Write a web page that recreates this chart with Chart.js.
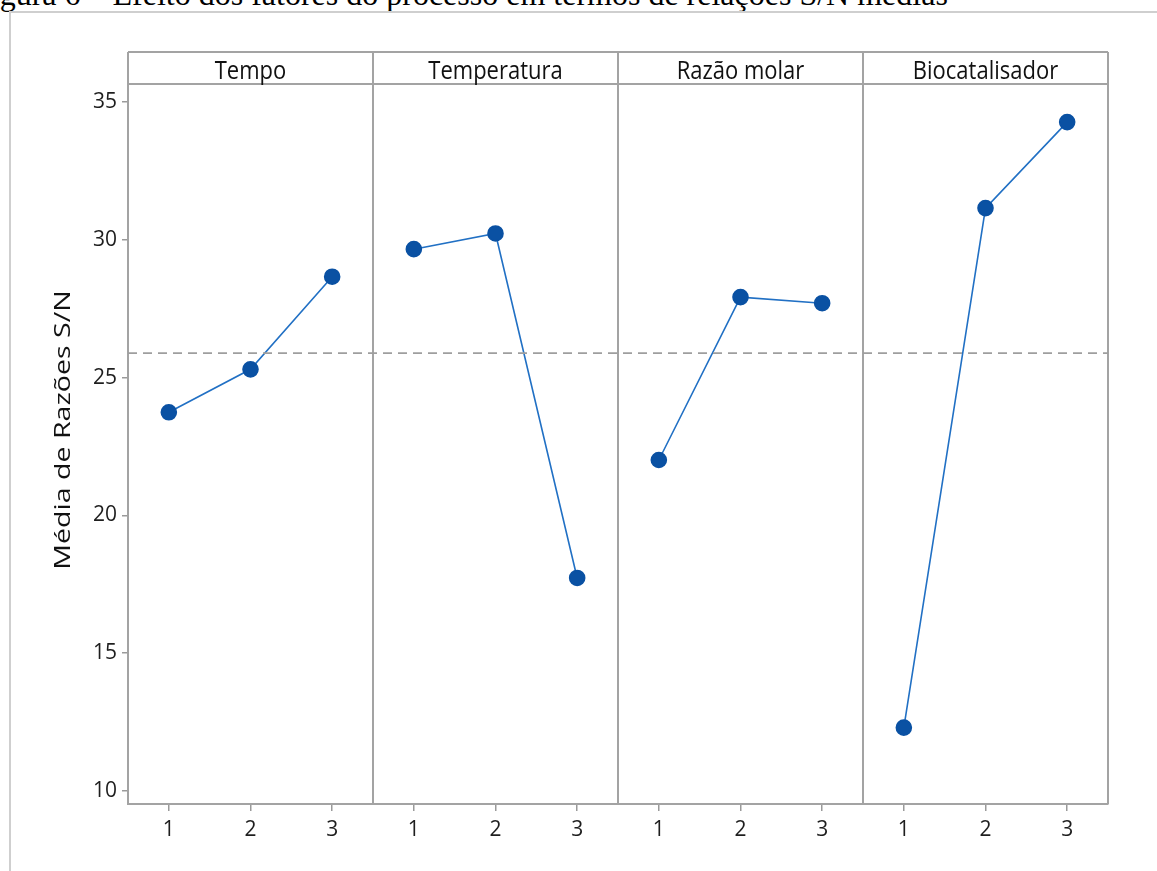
<!DOCTYPE html>
<html>
<head>
<meta charset="utf-8">
<script src="https://cdn.jsdelivr.net/npm/chart.js@4/dist/chart.umd.min.js"></script>
<style>
  html, body { margin: 0; padding: 0; background: #fff; width: 1157px; height: 871px; overflow: hidden; }
  #caption {
    position: absolute; left: -27px; top: -22px;
    font-family: "Liberation Serif", "Times New Roman", serif;
    font-size: 32px; line-height: 32px; white-space: nowrap; color: #000;
  }
  #frame {
    position: absolute; left: 9px; top: 11px; width: 1300px; height: 1000px;
    border-left: 2px solid #cfcfcf; border-top: 2px solid #cfcfcf;
  }
  #wrap { position: absolute; left: 0; top: 0; width: 1157px; height: 871px; }
</style>
</head>
<body>
<div id="caption">Figura 6 – Efeito dos fatores do processo em termos de relações S/N médias</div>
<div id="frame"></div>
<div id="wrap"><canvas id="c"></canvas></div>
<script>
// Main effects of the process factors on mean S/N ratios
const factors = ['Tempo', 'Temperatura', 'Razão molar', 'Biocatalisador'];
const levels = ['1', '2', '3'];
const tempo = [23.74, 25.30, 28.66];
const temperatura = [29.66, 30.23, 17.73];
const razaoMolar = [22.01, 27.92, 27.70];
const biocatalisador = [12.30, 31.15, 34.27];
const yTicks = [10, 15, 20, 25, 30, 35];
const yTitle = 'Média de Razões S/N';

const series = [tempo, temperatura, razaoMolar, biocatalisador];
const allValues = series.flat();
const grandMean = allValues.reduce((a, b) => a + b, 0) / allValues.length;
const nLev = levels.length;
const xMax = factors.length * nLev + 0.5;

Chart.defaults.font.family = '"Open Sans", "Noto Sans", sans-serif';

const GRAY = '#a3a3a3';
const INK = '#1e1e1e';

const datasets = [{
  label: 'Média',
  data: [{ x: 0.5, y: grandMean }, { x: xMax, y: grandMean }],
  borderColor: '#9e9e9e', borderWidth: 1.8, borderDash: [9, 6],
  pointRadius: 0, pointHoverRadius: 0
}].concat(series.map((vals, f) => ({
  label: factors[f],
  data: vals.map((v, i) => ({ x: f * nLev + i + 1, y: v })),
  borderColor: '#2170c4', borderWidth: 1.6,
  pointBackgroundColor: '#0a51a3', pointBorderColor: '#0a51a3',
  pointRadius: 7.5, pointHoverRadius: 7.5, tension: 0, clip: false
})));

// Panel frame, strip headers and factor dividers
const panelPlugin = {
  id: 'panels',
  beforeDatasetsDraw(chart) {
    const { ctx, chartArea: a, scales: { x } } = chart;
    const stripTop = 52;
    ctx.save();
    ctx.strokeStyle = GRAY;
    ctx.lineWidth = 2;
    ctx.beginPath();
    ctx.moveTo(a.left, stripTop); ctx.lineTo(a.right, stripTop);
    ctx.moveTo(a.left, a.top); ctx.lineTo(a.right, a.top);
    ctx.moveTo(a.left, stripTop); ctx.lineTo(a.left, a.top);
    ctx.moveTo(a.right, stripTop); ctx.lineTo(a.right, a.bottom);
    for (let f = 1; f < factors.length; f++) {
      const px = x.getPixelForValue(f * nLev + 0.5);
      ctx.moveTo(px, stripTop); ctx.lineTo(px, a.bottom);
    }
    ctx.stroke();
    ctx.fillStyle = '#111';
    ctx.font = '22px "Open Sans", sans-serif';
    ctx.textAlign = 'center';
    ctx.textBaseline = 'alphabetic';
    factors.forEach((name, f) => {
      const cx = x.getPixelForValue(f * nLev + (nLev + 1) / 2);
      ctx.save();
      ctx.translate(cx, 79);
      ctx.scale(1, 1.15);
      ctx.fillText(name, 0, 0);
      ctx.restore();
    });
    ctx.restore();
  },
  afterDraw(chart) {
    const { ctx, chartArea: a } = chart;
    ctx.save();
    ctx.translate(64, (a.top + a.bottom) / 2 - 14);
    ctx.rotate(-Math.PI / 2);
    ctx.scale(1.36, 1);
    ctx.fillStyle = '#111';
    ctx.font = '21px "Open Sans", sans-serif';
    ctx.textAlign = 'center';
    ctx.textBaseline = 'middle';
    ctx.fillText(yTitle, 0, 0);
    ctx.restore();
  }
};

new Chart(document.getElementById('c'), {
  type: 'line',
  data: { datasets },
  options: {
    responsive: true, maintainAspectRatio: false, animation: false,
    devicePixelRatio: 1,
    layout: { padding: { top: 84, right: 49, bottom: 0, left: 0 } },
    plugins: { legend: { display: false }, tooltip: { enabled: false } },
    scales: {
      x: {
        type: 'linear', min: 0.5, max: xMax,
        afterBuildTicks: s => { s.ticks = Array.from({ length: factors.length * nLev }, (_, i) => ({ value: i + 1 })); },
        afterFit: s => { s.height = 67; },
        ticks: {
          callback: v => levels[(v - 1) % nLev],
          font: { size: 21 }, color: INK, padding: 6, maxRotation: 0, autoSkip: false
        },
        grid: { drawOnChartArea: false, tickLength: 7, color: '#9a9a9a', lineWidth: 1.5 },
        border: { color: GRAY, width: 2 }
      },
      y: {
        type: 'linear', min: 9.528, max: 35.653,
        afterBuildTicks: s => { s.ticks = yTicks.map(v => ({ value: v })); },
        afterFit: s => { s.width = 128; },
        ticks: { font: { size: 21 }, color: INK, padding: 5 },
        grid: { drawOnChartArea: false, tickLength: 6, color: '#9a9a9a', lineWidth: 1.5 },
        border: { color: GRAY, width: 2 }
      }
    }
  },
  plugins: [panelPlugin]
});
</script>
</body>
</html>
